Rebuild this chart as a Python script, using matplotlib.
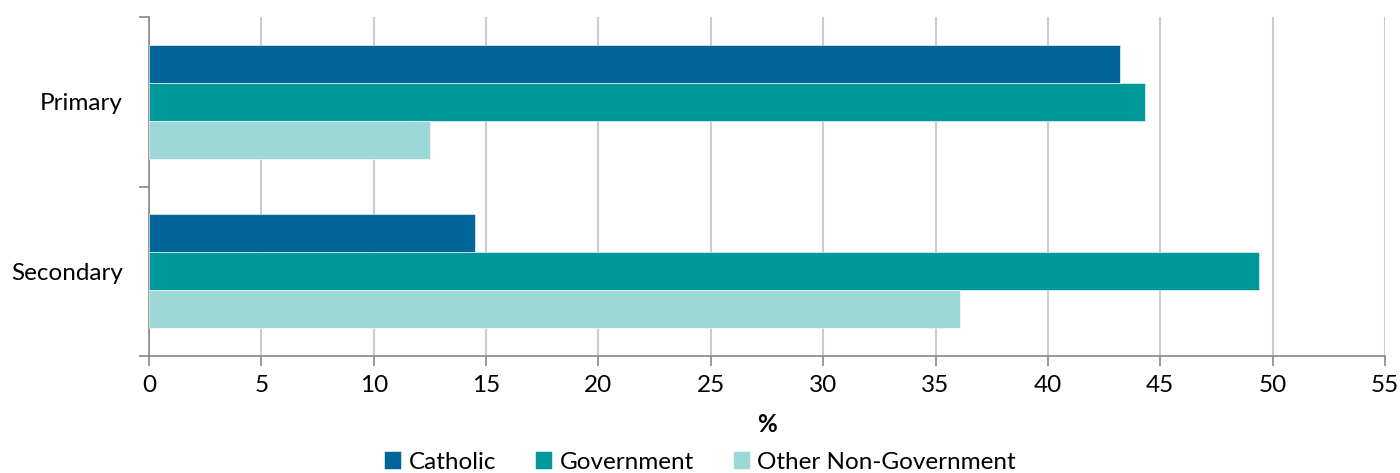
import matplotlib.pyplot as plt
import numpy as np

# data
categories = ['Primary', 'Secondary']
series = ['Catholic', 'Government', 'Other Non-Government']
catholic = [43.2, 14.5]
government = [44.3, 49.4]
otherNonGov = [12.5, 36.1]
colors = ['#006599', '#009999', '#9dd8d8']

plt.rcParams['font.family'] = ['Lato', 'DejaVu Sans']
fs = 17.5

fig = plt.figure(figsize=(14, 4.73), dpi=100)
ax = fig.add_axes([149 / 1400, 1 - 356 / 473, (1385 - 149) / 1400, (356 - 17) / 473])

# primary on top
ypos = np.arange(len(categories))[::-1]
h = 0.224
values = [catholic, government, otherNonGov]
offsets = [h, 0, -h]
for vals, off, col, lab in zip(values, offsets, colors, series):
	ax.barh(ypos + off, vals, height=h, color=col, label=lab, edgecolor='white', linewidth=0.4, zorder=3)

ax.set_xlim(0, 55)
ax.set_ylim(-0.5, 1.5)
ax.set_xticks(np.arange(0, 56, 5))
ax.set_yticks(ypos)
ax.set_yticklabels(categories)
ax.set_yticks([-0.5, 0.5, 1.5], minor=True)
ax.tick_params(axis='y', which='major', length=0, pad=19, labelsize=fs)
ax.tick_params(axis='y', which='minor', length=7, color='#888888', width=1.2)
ax.tick_params(axis='x', length=7, color='#888888', width=1.2, labelsize=fs, pad=7)
ax.grid(axis='x', color='#cccccc', linewidth=1.5, zorder=0)
for s in ['top', 'right']:
	ax.spines[s].set_visible(False)
for s in ['left', 'bottom']:
	ax.spines[s].set_color('#888888')
	ax.spines[s].set_linewidth(1.2)

ax.set_xlabel('%', fontsize=fs, fontweight='bold', labelpad=12)
fig.legend(loc='center', bbox_to_anchor=(0.5, 1 - 462 / 473), ncol=3, frameon=False,
	fontsize=fs, handlelength=0.7, handleheight=0.7, handletextpad=0.3, columnspacing=1.6)

fig.savefig('out.png', dpi=100)
